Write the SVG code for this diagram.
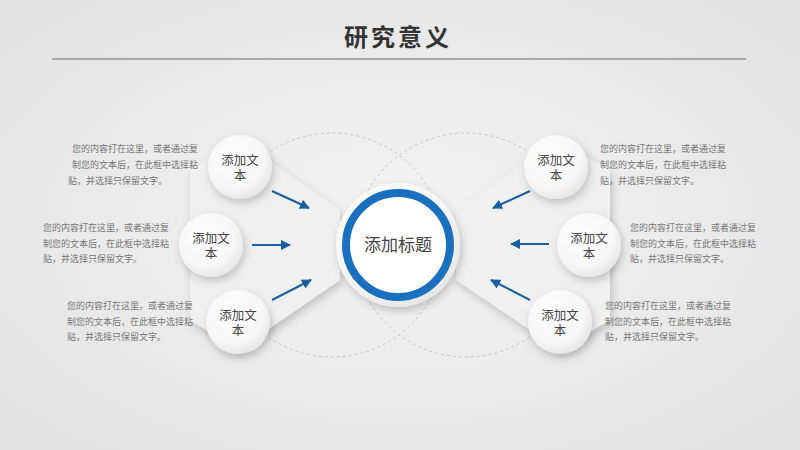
<svg xmlns="http://www.w3.org/2000/svg" width="800" height="450" viewBox="0 0 800 450">
<defs>
<radialGradient id="bg" cx="50%" cy="50%" r="70%"><stop offset="0" stop-color="#f4f4f4"/><stop offset="1" stop-color="#e2e2e2"/></radialGradient>
<radialGradient id="ball" cx="40%" cy="35%" r="70%"><stop offset="0" stop-color="#ffffff"/><stop offset="0.7" stop-color="#f6f6f6"/><stop offset="1" stop-color="#e4e4e4"/></radialGradient>
<filter id="sh" x="-40%" y="-40%" width="180%" height="180%"><feDropShadow dx="2" dy="4" stdDeviation="4" flood-color="#000" flood-opacity="0.2"/></filter>
<marker id="ar" viewBox="0 0 10 10" refX="9" refY="5" markerWidth="5" markerHeight="5" orient="auto"><path d="M0,0L10,5L0,10z" fill="#1a5f9e"/></marker>
<style>
.t{font-family:"Liberation Sans","Noto Sans CJK SC",sans-serif;font-size:9px;fill:#777}
.n{font-family:"Liberation Sans","Noto Sans CJK SC",sans-serif;font-size:12.5px;fill:#444;text-anchor:middle}
.c{fill:url(#ball);filter:url(#sh)}
.a{stroke:#1a5f9e;stroke-width:2;marker-end:url(#ar)}
.d{fill:none;stroke:#c8c8c8;stroke-width:1;stroke-dasharray:3 3}
</style>
</defs>
<rect width="800" height="450" fill="url(#bg)"/>
<text x="398" y="46" font-family="Liberation Sans,Noto Sans CJK SC,sans-serif" font-size="24" font-weight="bold" fill="#333" text-anchor="middle" letter-spacing="3">研究意义</text>
<line x1="52" y1="59" x2="746" y2="59" stroke="#a8a8a8" stroke-width="2"/>
<circle class="d" cx="332" cy="245" r="112"/>
<circle class="d" cx="466" cy="245" r="112"/>
<path d="M240,140 L340,210 L340,280 L238,350 L190,320 L190,170 Z" fill="#f0f0f0" filter="url(#sh)"/>
<path d="M556,140 L456,210 L456,280 L560,350 L610,320 L610,170 Z" fill="#f0f0f0" filter="url(#sh)"/>
<g id="connectors">
<line class="a" x1="272" y1="191" x2="309" y2="208"/>
<line class="a" x1="252" y1="245" x2="290" y2="245"/>
<line class="a" x1="272" y1="300" x2="311" y2="280"/>
<line class="a" x1="530" y1="191" x2="493" y2="208"/>
<line class="a" x1="549" y1="244" x2="511" y2="244"/>
<line class="a" x1="530" y1="300" x2="491" y2="280"/>
</g>
<g id="center">
<circle cx="398" cy="245" r="62" fill="url(#ball)" filter="url(#sh)"/>
<circle cx="398" cy="245" r="52" fill="#fff" stroke="#1a6fbf" stroke-width="8"/>
<text x="398" y="251" class="n" font-size="17" style="font-size:17px">添加标题</text>
</g>
<g id="l1"><circle class="c" cx="240" cy="167" r="32"/><text class="n" x="240" y="165">添加文</text><text class="n" x="240" y="180">本</text></g>
<g id="l2"><circle class="c" cx="211" cy="245" r="32"/><text class="n" x="211" y="243">添加文</text><text class="n" x="211" y="258">本</text></g>
<g id="l3"><circle class="c" cx="238" cy="322" r="32"/><text class="n" x="238" y="320">添加文</text><text class="n" x="238" y="335">本</text></g>
<g id="r1"><circle class="c" cx="556" cy="167" r="32"/><text class="n" x="556" y="165">添加文</text><text class="n" x="556" y="180">本</text></g>
<g id="r2"><circle class="c" cx="589" cy="245" r="32"/><text class="n" x="589" y="243">添加文</text><text class="n" x="589" y="258">本</text></g>
<g id="r3"><circle class="c" cx="560" cy="322" r="32"/><text class="n" x="560" y="320">添加文</text><text class="n" x="560" y="335">本</text></g>
<g id="tl1" class="t"><text class="t" x="72" y="152">您的内容打在这里，或者通过复</text><text class="t" x="72" y="168">制您的文本后，在此框中选择粘</text><text class="t" x="68" y="184">贴，并选择只保留文字。</text></g>
<g id="tl2"><text class="t" x="43" y="231">您的内容打在这里，或者通过复</text><text class="t" x="43" y="247">制您的文本后，在此框中选择粘</text><text class="t" x="43" y="262">贴，并选择只保留文字。</text></g>
<g id="tl3"><text class="t" x="67" y="309">您的内容打在这里，或者通过复</text><text class="t" x="67" y="325">制您的文本后，在此框中选择粘</text><text class="t" x="67" y="340">贴，并选择只保留文字。</text></g>
<g id="tr1"><text class="t" x="600" y="152">您的内容打在这里，或者通过复</text><text class="t" x="600" y="168">制您的文本后，在此框中选择粘</text><text class="t" x="600" y="184">贴，并选择只保留文字。</text></g>
<g id="tr2"><text class="t" x="630" y="231">您的内容打在这里，或者通过复</text><text class="t" x="630" y="247">制您的文本后，在此框中选择粘</text><text class="t" x="630" y="262">贴，并选择只保留文字。</text></g>
<g id="tr3"><text class="t" x="605" y="309">您的内容打在这里，或者通过复</text><text class="t" x="605" y="325">制您的文本后，在此框中选择粘</text><text class="t" x="605" y="340">贴，并选择只保留文字。</text></g>
</svg>
